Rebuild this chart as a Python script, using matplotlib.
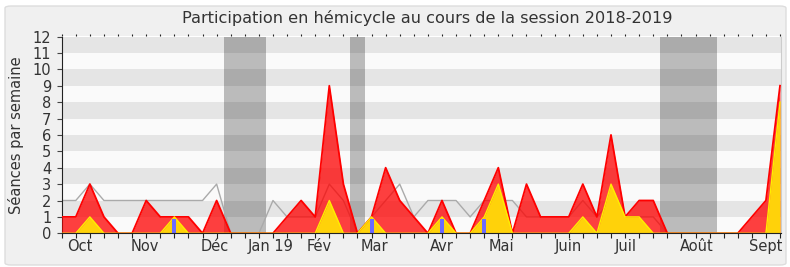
import numpy as np
import matplotlib
matplotlib.use("Agg")
import matplotlib.pyplot as plt
from matplotlib.patches import FancyBboxPatch

plt.rcParams['font.family'] = ['DejaVu Sans']

# Weekly series for the 2018-2019 session (52 weeks)
presences = [1, 1, 3, 1, 0, 0, 2, 1, 1, 1, 0, 2, 0, 0, 0, 0, 1, 2, 1, 9,
             3, 0, 1, 4, 2, 1, 0, 2, 0, 0, 2, 4, 0, 3, 1, 1, 1, 3, 1, 6,
             1, 2, 2, 0, 0, 0, 0, 0, 0, 1, 2, 9]
interventions = [0, 0, 1, 0, 0, 0, 0, 0, 1, 0, 0, 0, 0, 0, 0, 0, 0, 0, 0, 2,
                 0, 0, 1, 0, 0, 0, 0, 1, 0, 0, 1, 3, 0, 0, 0, 0, 0, 1, 0, 3,
                 1, 1, 0, 0, 0, 0, 0, 0, 0, 0, 0, 8]
mediane = [2, 2, 3, 2, 2, 2, 2, 2, 2, 2, 2, 3, 0, 0, 0, 2, 1, 1, 1, 3,
           2, 0, 1, 2, 3, 1, 2, 2, 2, 1, 2, 2, 2, 1, 1, 1, 1, 2, 1, 2,
           1, 1, 1, 0, 0, 0, 0, 0, 0, 0, 0, 0]
questions_semaines = [8, 22, 27, 30]
questions_valeurs = [0.9, 0.9, 0.9, 0.9]
vacances = [12, 13, 14, 21, 43, 44, 45, 46]

mois_labels = ["Oct", "Nov", "Déc", "Jan 19", "Fév", "Mar", "Avr", "Mai",
               "Juin", "Juil", "Août", "Sept"]
mois_positions = [1.3, 5.9, 10.9, 14.85, 18.25, 22.2, 27.0, 31.2,
                  36.0, 40.05, 45.1, 50.0]

W, H = 790, 267
fig = plt.figure(figsize=(W / 100, H / 100), dpi=100)
fig.patch.set_facecolor("white")

# rounded panel behind the chart
panel = FancyBboxPatch((5 / W, 2 / H), 781 / W, 259 / H,
                       boxstyle="round,pad=0,rounding_size=0.008",
                       transform=fig.transFigure, facecolor="#f0f0f0",
                       edgecolor="#dddddd", linewidth=1.0, zorder=-10)
fig.patches.append(panel)

ax = fig.add_axes([61.7 / W, 1 - 233.3 / H, (781 - 61.7) / W, (233.3 - 36.5) / H])
ax.set_zorder(1)
ax.set_facecolor("#fafafa")

weeks = np.arange(len(presences))
xmax = 51.07
ax.set_xlim(0, xmax)
ax.set_ylim(0, 12)

# horizontal bands
for k in range(1, 12, 2):
    ax.axhspan(k, k + 1, color="#e5e5e5", lw=0, zorder=0.5)

# holiday weeks
for w in vacances:
    ax.axvspan(w - 0.5, w + 0.5, color="black", alpha=0.25, lw=0, zorder=1)

# median line
ax.plot(weeks, mediane, color="#aaaaaa", lw=1.0, zorder=2)

# presences
ax.fill_between(weeks, presences, 0, color=(1, 0, 0, 0.75), lw=0, zorder=3)
ax.plot(weeks, presences, color="#ff0000", lw=1.3, zorder=3.1)

# interventions
ax.fill_between(weeks, interventions, 0, color="#ffd20a", lw=0, zorder=4)
ax.plot(weeks, interventions, color="#ffee00", lw=1.0, zorder=4.1)

# oral questions
ax.bar(questions_semaines, questions_valeurs, width=0.28, color="#6b6bff",
       lw=0, zorder=5)

# axes styling
ax.spines["top"].set_visible(False)
ax.spines["right"].set_color("#cccccc")
ax.spines["left"].set_color("#222222")
ax.spines["bottom"].set_color("#222222")
ax.spines["bottom"].set_zorder(6)

ax.set_yticks(range(0, 13))
ax.tick_params(axis="y", length=3.5, width=0.8, color="#444444",
               labelsize=10.5, labelcolor="#333333", pad=4)

ax.xaxis.remove_overlapping_locs = False
ax.set_xticks(weeks)
ax.set_xticklabels([])
ax.tick_params(axis="x", which="major", length=3.6, width=0.8,
               color="#222222", direction="out")
ax.set_xticks(mois_positions, minor=True)
ax.set_xticklabels(mois_labels, minor=True)
ax.tick_params(axis="x", which="minor", length=0, labelsize=10.5,
               labelcolor="#333333", pad=4)

top = ax.secondary_xaxis("top")
top.set_xticks(weeks)
top.set_xticklabels([])
top.tick_params(length=1.5, width=0.8, color="#222222", direction="out")
top.spines["top"].set_visible(False)

ax.set_ylabel("Séances par semaine", fontsize=10.5, color="#333333",
              labelpad=6)
fig.text(427 / W, 1 - 18 / H,
         "Participation en hémicycle au cours de la session 2018-2019",
         ha="center", va="center", fontsize=11.6, color="#333333")

fig.savefig("out.png", dpi=100, facecolor=fig.get_facecolor())
